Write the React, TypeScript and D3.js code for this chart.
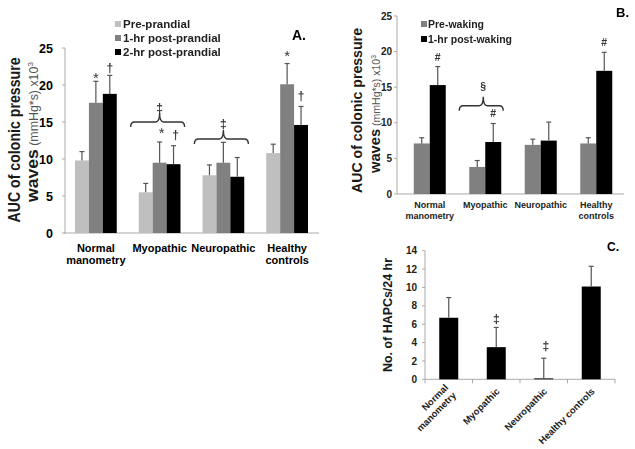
import React from "react";
import * as d3 from "d3";

const FONT = "Arial, 'Liberation Sans', Helvetica, sans-serif";

// ---------- Panel A ----------
const catsA: string[][] = [["Normal", "manometry"], ["Myopathic"], ["Neuropathic"], ["Healthy", "controls"]];
const seriesA = ["Pre-prandial", "1-hr post-prandial", "2-hr post-prandial"];
const colorsA = ["#bfbfbf", "#808080", "#000000"];
const preA = [9.8, 5.5, 7.8, 10.8];
const preAErr = [1.2, 1.2, 1.4, 1.2];
const oneHrA = [17.6, 9.5, 9.5, 20.1];
const oneHrAErr = [2.9, 2.8, 2.75, 2.8];
const twoHrA = [18.8, 9.3, 7.6, 14.6];
const twoHrAErr = [2.5, 2.5, 2.6, 2.5];
const ticksA = [0, 5, 10, 15, 20, 25];
const markSymA = ["*", "†", "*", "†", "*", "†"];
const markCatA = [0, 0, 1, 1, 3, 3];
const markSerA = [1, 2, 1, 2, 1, 2];
const markValA = [21.35, 22.3, 13.9, 13.2, 24.3, 18.5];
const braceCatA = [1, 2];
const braceValA = [15.0, 12.7];
const braceSymA = ["‡", "‡"];
const braceSymValA = [16.9, 14.7];

// ---------- Panel B ----------
const catsB: string[][] = [["Normal", "manometry"], ["Myopathic"], ["Neuropathic"], ["Healthy", "controls"]];
const seriesB = ["Pre-waking", "1-hr post-waking"];
const colorsB = ["#808080", "#000000"];
const preB = [7.1, 3.8, 6.9, 7.1];
const preBErr = [0.8, 0.9, 0.8, 0.8];
const postB = [15.3, 7.3, 7.5, 17.3];
const postBErr = [2.6, 2.6, 2.6, 2.6];
const ticksB = [0, 5, 10, 15, 20, 25];
const markSymB = ["#", "#", "#"];
const markCatB = [0, 1, 3];
const markSerB = [1, 1, 1];
const markValB = [19.17, 11.4, 21.35];
const braceCatB = [1];
const braceValB = [12.4];
const braceSymB = ["§"];
const braceSymValB = [15.1];

// ---------- Panel C ----------
const catsC: string[][] = [["Normal", "manometry"], ["Myopathic"], ["Neuropathic"], ["Healthy controls"]];
const hapcC = [6.7, 3.5, 0.1, 10.1];
const hapcCErr = [2.2, 2.15, 2.2, 2.2];
const ticksC = [0, 2, 4, 6, 8, 10, 12, 14];
const markSymC = ["‡", "‡"];
const markCatC = [1, 2];
const markValC = [6.57, 3.6];

const AXIS = "#aaaaaa";
const ERR = "#555555";
const ANN = "#333333";

function symShift(s: string, fs: number) {
  if (s === "*") return 0.55 * fs;
  if (s === "#") return 0.36 * fs;
  return 0.3 * fs;
}
function symSize(s: string) {
  if (s === "*") return 15;
  if (s === "#" || s === "§") return 10.5;
  return 12;
}

function Err({ x, y0, y1 }: { x: number; y0: number; y1: number }) {
  return (
    <g stroke={ERR} strokeWidth={1.2}>
      <line x1={x} x2={x} y1={y0} y2={y1} />
      <line x1={x - 2.5} x2={x + 2.5} y1={y1} y2={y1} />
    </g>
  );
}

function Brace({ x0, x1, cx, y }: { x0: number; x1: number; cx: number; y: number }) {
  const d = `M${x0},${y + 5} Q${x0},${y} ${x0 + 4},${y} L${cx - 4},${y} Q${cx},${y} ${cx},${y - 9} Q${cx},${y} ${cx + 4},${y} L${x1 - 4},${y} Q${x1},${y} ${x1},${y + 5}`;
  return <path d={d} fill="none" stroke={ANN} strokeWidth={1.4} />;
}

function Sym({ s, x, y }: { s: string; x: number; y: number }) {
  const fs = symSize(s);
  return (
    <text
      x={x}
      y={y + symShift(s, fs)}
      textAnchor="middle"
      fontSize={fs}
      fontWeight={s === "*" ? "normal" : "bold"}
      fill={ANN}
      opacity={0.99}
      style={{ willChange: "transform" }}
      fontFamily={FONT}
    >
      {s}
    </text>
  );
}

function PanelA() {
  const x = d3.scaleBand<number>().domain(d3.range(catsA.length)).range([64, 319]);
  const bw = x.bandwidth();
  const s = d3.scaleBand<number>().domain(d3.range(seriesA.length)).range([11, bw - 11]);
  const y = d3.scaleLinear().domain([0, 25]).range([233, 48]);
  const vals = [preA, oneHrA, twoHrA];
  const errs = [preAErr, oneHrAErr, twoHrAErr];
  const cx = (c: number, k: number) => (x(c) as number) + (s(k) as number) + s.bandwidth() / 2;
  return (
    <g>
      <line x1={65} x2={65} y1={y(25)} y2={y(0)} stroke={AXIS} />
      <line x1={64} x2={319} y1={y(0)} y2={y(0)} stroke={AXIS} />
      {ticksA.map((t) => (
        <g key={t}>
          <line x1={62} x2={65} y1={y(t)} y2={y(t)} stroke={AXIS} />
          <text x={53} y={y(t)} dy="0.36em" textAnchor="end" fontSize={12.5} fontWeight="bold" fontFamily={FONT}>
            {t}
          </text>
        </g>
      ))}
      {vals.map((arr, k) =>
        arr.map((v, c) => (
          <rect key={`${k}-${c}`} x={(x(c) as number) + (s(k) as number)} width={s.bandwidth()} y={y(v)} height={y(0) - y(v)} fill={colorsA[k]} />
        ))
      )}
      {vals.map((arr, k) => arr.map((v, c) => <Err key={`e${k}-${c}`} x={cx(c, k)} y0={y(v)} y1={y(v + errs[k][c])} />))}
      {catsA.map((lines, c) => (
        <text key={c} x={(x(c) as number) + bw / 2} textAnchor="middle" fontSize={11} fontWeight="bold" fontFamily={FONT}>
          {lines.map((l, i) => (
            <tspan key={i} x={(x(c) as number) + bw / 2} y={252 + i * 12}>
              {l}
            </tspan>
          ))}
        </text>
      ))}
      {markSymA.map((m, i) => (
        <Sym key={i} s={m} x={cx(markCatA[i], markSerA[i]) + (markCatA[i] === 1 ? 2 : 0)} y={y(markValA[i])} />
      ))}
      {braceCatA.map((c, i) => {
        const mid = (x(c) as number) + bw / 2;
        return (
          <g key={i}>
            <Brace x0={mid - 29} x1={mid + 25} cx={mid} y={y(braceValA[i])} />
            <Sym s={braceSymA[i]} x={mid} y={y(braceSymValA[i])} />
          </g>
        );
      })}
      {seriesA.map((n, k) => (
        <g key={n}>
          <rect x={115} y={24 + k * 14 - 3} width={6} height={6} fill={colorsA[k]} />
          <text x={123} y={24 + k * 14} dy="0.36em" fontSize={11.5} fontWeight="bold" fill="#222" fontFamily={FONT}>
            {n}
          </text>
        </g>
      ))}
      <text x={292} y={40} fontSize={14} fontWeight="bold" fontFamily={FONT}>
        A.
      </text>
      <text transform="translate(20,140) rotate(-90)" textAnchor="middle" fontSize={17} fontWeight="bold" fill="#1a1a1a" fontFamily={FONT} textLength={165} lengthAdjust="spacingAndGlyphs">
        AUC of colonic pressure
      </text>
      <text transform="translate(38,132) rotate(-90)" textAnchor="middle" fontFamily={FONT} textLength={140} lengthAdjust="spacingAndGlyphs">
        <tspan fontSize={17} fontWeight="bold" fill="#1a1a1a">waves</tspan>
        <tspan fontSize={12} fill="#555"> (mmHg*s) x10</tspan>
        <tspan fontSize={8} dy={-5} fill="#555">3</tspan>
      </text>
    </g>
  );
}

function PanelB() {
  const x = d3.scaleBand<number>().domain(d3.range(catsB.length)).range([402, 624]);
  const bw = x.bandwidth();
  const s = d3.scaleBand<number>().domain(d3.range(seriesB.length)).range([11.75, bw - 11.75]);
  const y = d3.scaleLinear().domain([0, 25]).range([194, 16]);
  const vals = [preB, postB];
  const errs = [preBErr, postBErr];
  const cx = (c: number, k: number) => (x(c) as number) + (s(k) as number) + s.bandwidth() / 2;
  return (
    <g>
      <line x1={397} x2={397} y1={y(25)} y2={y(0)} stroke={AXIS} />
      <line x1={397} x2={624} y1={y(0)} y2={y(0)} stroke={AXIS} />
      {ticksB.map((t) => (
        <g key={t}>
          <line x1={394} x2={397} y1={y(t)} y2={y(t)} stroke={AXIS} />
          <text x={392} y={y(t)} dy="0.36em" textAnchor="end" fontSize={10} fontWeight="bold" fill="#222" fontFamily={FONT}>
            {t}
          </text>
        </g>
      ))}
      {vals.map((arr, k) =>
        arr.map((v, c) => (
          <rect key={`${k}-${c}`} x={(x(c) as number) + (s(k) as number)} width={s.bandwidth()} y={y(v)} height={y(0) - y(v)} fill={colorsB[k]} />
        ))
      )}
      {vals.map((arr, k) => arr.map((v, c) => <Err key={`e${k}-${c}`} x={cx(c, k)} y0={y(v)} y1={y(v + errs[k][c])} />))}
      {catsB.map((lines, c) => (
        <text key={c} textAnchor="middle" fontSize={9} fontWeight="bold" fill="#222" fontFamily={FONT}>
          {lines.map((l, i) => (
            <tspan key={i} x={(x(c) as number) + bw / 2} y={208 + i * 11}>
              {l}
            </tspan>
          ))}
        </text>
      ))}
      {markSymB.map((m, i) => (
        <Sym key={i} s={m} x={cx(markCatB[i], markSerB[i])} y={y(markValB[i])} />
      ))}
      {braceCatB.map((c, i) => {
        const mid = (x(c) as number) + bw / 2;
        return (
          <g key={i}>
            <Brace x0={mid - 26} x1={mid + 18} cx={mid - 2} y={y(braceValB[i])} />
            <Sym s={braceSymB[i]} x={mid - 2} y={y(braceSymValB[i])} />
          </g>
        );
      })}
      {seriesB.map((n, k) => (
        <g key={n}>
          <rect x={421} y={24 + k * 15 - 3} width={6} height={6} fill={colorsB[k]} />
          <text x={428} y={24 + k * 15} dy="0.36em" fontSize={10.5} fontWeight="bold" fill="#222" fontFamily={FONT}>
            {n}
          </text>
        </g>
      ))}
      <text x={616} y={17} fontSize={13} fontWeight="bold" fontFamily={FONT}>
        B.
      </text>
      <text transform="translate(362,110.5) rotate(-90)" textAnchor="middle" fontSize={14} fontWeight="bold" fill="#1a1a1a" fontFamily={FONT} textLength={165} lengthAdjust="spacingAndGlyphs">
        AUC of colonic pressure
      </text>
      <text transform="translate(380,114) rotate(-90)" textAnchor="middle" fontFamily={FONT} textLength={118} lengthAdjust="spacingAndGlyphs">
        <tspan fontSize={14} fontWeight="bold" fill="#1a1a1a">waves</tspan>
        <tspan fontSize={10} fill="#555"> (mmHg*s) x10</tspan>
        <tspan fontSize={6.5} dy={-4} fill="#555">3</tspan>
      </text>
    </g>
  );
}

function PanelC() {
  const x = d3.scaleBand<number>().domain(d3.range(catsC.length)).range([425, 615]);
  const bw = x.bandwidth();
  const barW = bw * 0.4;
  const y = d3.scaleLinear().domain([0, 14]).range([379.3, 250.7]);
  const cx = (c: number) => (x(c) as number) + bw / 2;
  return (
    <g>
      <line x1={425} x2={425} y1={y(14)} y2={y(0)} stroke={AXIS} />
      <line x1={425} x2={615} y1={y(0)} y2={y(0)} stroke={AXIS} />
      {d3.range(catsC.length + 1).map((i) => (
        <line key={i} x1={425 + i * bw} x2={425 + i * bw} y1={y(0)} y2={y(0) + 4} stroke={AXIS} />
      ))}
      {ticksC.map((t) => (
        <g key={t}>
          <line x1={422} x2={425} y1={y(t)} y2={y(t)} stroke={AXIS} />
          <text x={417} y={y(t)} dy="0.36em" textAnchor="end" fontSize={10} fontWeight="bold" fill="#222" fontFamily={FONT}>
            {t}
          </text>
        </g>
      ))}
      {hapcC.map((v, c) => (
        <rect key={c} x={cx(c) - barW / 2} width={barW} y={y(v)} height={y(0) - y(v)} fill="#000" />
      ))}
      {hapcC.map((v, c) => (
        <Err key={`e${c}`} x={cx(c)} y0={y(v)} y1={y(v + hapcCErr[c])} />
      ))}
      {catsC.map((lines, c) => {
        const n = lines.length;
        return (
          <g key={c} transform={`translate(${cx(c) + 4},392) rotate(-45)`}>
            <text textAnchor="end" fontSize={9.5} fontWeight="bold" fill="#222" fontFamily={FONT}>
              {lines.map((l, i) => (
                <tspan key={i} x={0} y={(i - (n - 1) / 2) * 11}>
                  {l}
                </tspan>
              ))}
            </text>
          </g>
        );
      })}
      {markSymC.map((m, i) => (
        <Sym key={i} s={m} x={cx(markCatC[i]) + (i === 1 ? 2 : 0)} y={y(markValC[i])} />
      ))}
      <text x={607} y={251} fontSize={12} fontWeight="bold" fontFamily={FONT}>
        C.
      </text>
      <text transform="translate(392,315) rotate(-90)" textAnchor="middle" fontSize={13} fontWeight="bold" fill="#1a1a1a" fontFamily={FONT} textLength={114} lengthAdjust="spacingAndGlyphs">
        No. of HAPCs/24 hr
      </text>
    </g>
  );
}

export default function App() {
  return (
    <svg width={635} height={449} style={{ position: "absolute", left: 0, top: 0, background: "#fff" }} fontFamily={FONT}>
      <rect width={635} height={449} fill="#fff" />
      <PanelA />
      <PanelB />
      <PanelC />
    </svg>
  );
}
